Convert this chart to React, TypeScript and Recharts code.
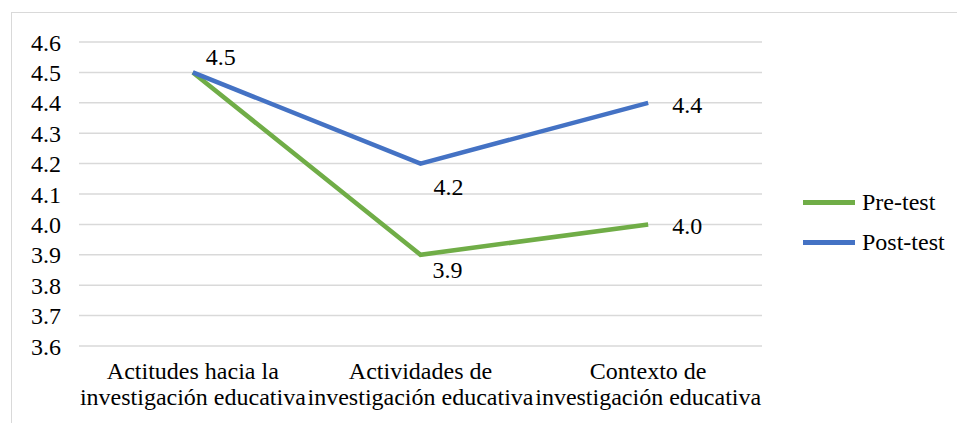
import React from "react";
import { CartesianGrid, LabelList, Line, LineChart, XAxis, YAxis } from "recharts";

const categories = [
  "Actitudes hacia la\ninvestigación educativa",
  "Actividades de\ninvestigación educativa",
  "Contexto de\ninvestigación educativa",
];
const preTest = [4.5, 3.9, 4.0];
const postTest = [4.5, 4.2, 4.4];
const yTicks = [3.6, 3.7, 3.8, 3.9, 4.0, 4.1, 4.2, 4.3, 4.4, 4.5, 4.6];
const seriesNames = ["Pre-test", "Post-test"];

const data = categories.map((name, i) => ({ name, pre: preTest[i], post: postTest[i] }));

const FONT = "'Liberation Serif', 'Times New Roman', serif";
const FS = 24;
const GREEN = "#70ad47";
const BLUE = "#4472c4";

// label offsets (dx, dy) per point, null = hidden
const preOffsets: ([number, number] | null)[] = [null, [27, 15], [39, 2]];
const postOffsets: ([number, number] | null)[] = [[28, -15], [28, 23], [39, 2]];

const makeLabel = (offsets: ([number, number] | null)[]) => (props: any) => {
  const { x, y, value, index } = props;
  const off = offsets[index];
  if (!off) return null;
  return (
    <text
      x={x + off[0]}
      y={y + off[1]}
      textAnchor="middle"
      dominantBaseline="central"
      fontFamily={FONT}
      fontSize={FS}
      fill="#000"
    >
      {Number(value).toFixed(1)}
    </text>
  );
};

const CategoryTick = (props: any) => {
  const { x, y, payload } = props;
  const lines = String(payload.value).split("\n");
  return (
    <g transform={`translate(${x},${y})`}>
      {lines.map((line, i) => (
        <text
          key={i}
          x={0}
          y={i * 26}
          dy={25}
          textAnchor="middle"
          fontFamily={FONT}
          fontSize={FS}
          fill="#000"
        >
          {line}
        </text>
      ))}
    </g>
  );
};

const legendItems = [
  { label: seriesNames[0], color: GREEN },
  { label: seriesNames[1], color: BLUE },
];

export default function App() {
  return (
    <div style={{ position: "absolute", left: 0, top: 0, width: 957, height: 423, background: "#fff" }}>
      <div
        style={{
          position: "absolute",
          left: 11,
          top: 12,
          width: 950,
          height: 420,
          border: "1.5px solid #d9d9d9",
          boxSizing: "border-box",
        }}
      />
      <LineChart
        width={957}
        height={423}
        data={data}
        margin={{ top: 42, right: 195, bottom: 0, left: 0 }}
        style={{ position: "absolute", left: 0, top: 0 }}
      >
        <CartesianGrid vertical={false} stroke="#d9d9d9" strokeWidth={1.5} />
        <XAxis
          dataKey="name"
          scale="band"
          axisLine={false}
          tickLine={false}
          interval={0}
          tick={<CategoryTick />}
          height={77}
        />
        <YAxis
          domain={[3.6, 4.6]}
          ticks={yTicks}
          interval={0}
          width={79}
          axisLine={false}
          tickLine={false}
          tickMargin={12}
          tickFormatter={(v) => Number(v).toFixed(1)}
          tick={{ fontFamily: FONT, fontSize: FS, fill: "#000" }}
        />
        <Line
          dataKey="pre"
          name={seriesNames[0]}
          stroke={GREEN}
          strokeWidth={4.5}
          dot={false}
          activeDot={false}
          isAnimationActive={false}
        >
          <LabelList dataKey="pre" content={makeLabel(preOffsets)} />
        </Line>
        <Line
          dataKey="post"
          name={seriesNames[1]}
          stroke={BLUE}
          strokeWidth={4.5}
          dot={false}
          activeDot={false}
          isAnimationActive={false}
        >
          <LabelList dataKey="post" content={makeLabel(postOffsets)} />
        </Line>
      </LineChart>
      <div
        style={{
          position: "absolute",
          left: 803,
          top: 182,
          fontFamily: FONT,
          fontSize: FS,
          color: "#000",
        }}
      >
        {legendItems.map((item) => (
          <div key={item.label} style={{ display: "flex", alignItems: "center", height: 40 }}>
            <span style={{ display: "inline-block", width: 52, height: 5, background: item.color, marginRight: 7 }} />
            <span>{item.label}</span>
          </div>
        ))}
      </div>
    </div>
  );
}
